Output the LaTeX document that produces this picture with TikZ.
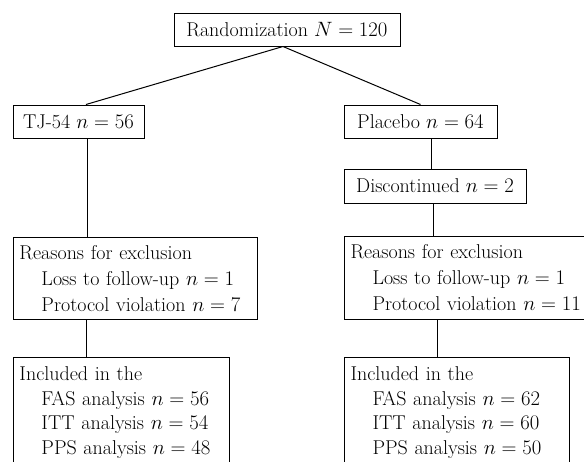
\documentclass[tikz,border=0pt]{standalone}
\usepackage{tikz}
\tikzset{
  onebox/.style={draw, line width=1pt, inner sep=0pt, minimum height=33pt, align=center,
    font=\fontsize{20}{26}\selectfont},
  listbox/.style={draw, line width=1pt, anchor=north west, inner xsep=6pt, align=left,
    font=\fontsize{20}{26}\selectfont},
  link/.style={line width=1pt}
}
\newcommand{\ind}{\hspace*{22pt}}
\begin{document}
\begin{tikzpicture}[x=1pt,y=-1pt]
\path[use as bounding box] (0,0) rectangle (584,461);
\clip (0,0) rectangle (584,461);
\node[onebox, minimum width=226pt] (rand) at (287,29.5) {Randomization $N=120$};
\node[onebox, minimum width=131pt] (tj) at (78.5,121.5) {TJ-54 $n=56$};
\node[onebox, minimum width=153pt] (pl) at (420.5,121.5) {Placebo $n=64$};
\node[onebox, minimum width=182pt, minimum height=34pt] (disc) at (435,186) {Discontinued $n=2$};
\node[listbox, text width=232pt, minimum height=82pt] (rl) at (13,237)
  {Reasons for exclusion\\ \ind Loss to follow-up $n=1$\\ \ind Protocol violation $n=7$};
\node[listbox, text width=260pt, minimum height=83pt] (rr) at (344,236)
  {Reasons for exclusion\\ \ind Loss to follow-up $n=1$\\ \ind Protocol violation $n=11$};
\node[listbox, text width=204pt, inner ysep=9.3pt, font=\fontsize{20}{24.5}\selectfont] (il) at (13,357)
  {Included in the\\ \ind FAS analysis $n=56$\\ \ind ITT analysis $n=54$\\ \ind PPS analysis $n=48$};
\node[listbox, text width=213pt, inner ysep=9.3pt, font=\fontsize{20}{24.5}\selectfont] (ir) at (344,357)
  {Included in the\\ \ind FAS analysis $n=62$\\ \ind ITT analysis $n=60$\\ \ind PPS analysis $n=50$};
\draw[link] ([xshift=-4pt]rand.south) -- ([xshift=7.5pt]tj.north);
\draw[link] ([xshift=-4pt]rand.south) -- (pl.north);
\draw[link] ([xshift=8.5pt]tj.south) -- ([xshift=8.5pt]tj.south |- rl.north);
\draw[link] ([xshift=10.5pt]pl.south) -- ([xshift=10.5pt]pl.south |- disc.north);
\draw[link] ([xshift=-2pt]disc.south) -- ([xshift=-2pt]disc.south |- rr.north);
\draw[link] ([xshift=-49pt]rl.south) -- ([xshift=-49pt]rl.south |- il.north);
\draw[link] ([xshift=-20pt]ir.north) -- ([xshift=-20pt]ir.north |- rr.south);
\end{tikzpicture}
\end{document}
